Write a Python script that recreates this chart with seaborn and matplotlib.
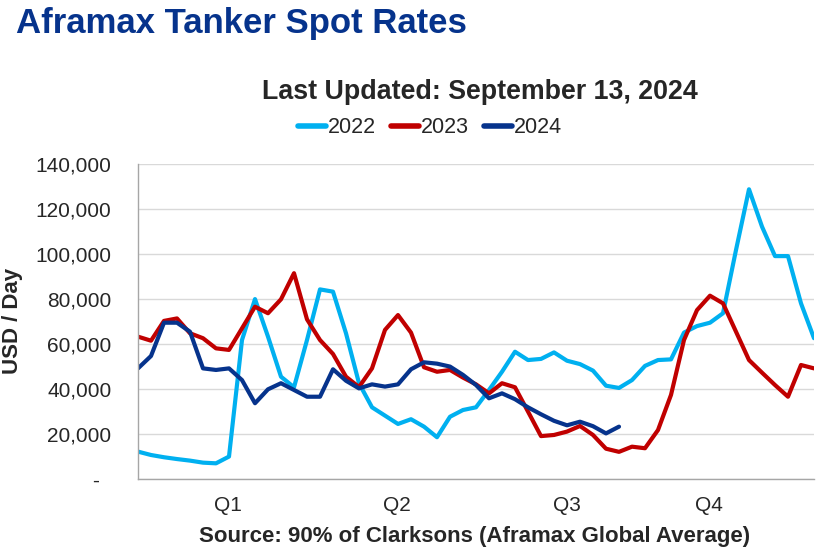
import pandas as pd
import matplotlib.pyplot as plt
import seaborn as sns
import numpy as np

# weekly spot rates, USD/day
rates_2022 = [12300, 10800, 9800, 9000, 8300, 7400, 7100, 10100, 61900, 80100,
              63400, 45600, 40900, 61900, 84400, 83400, 64900, 42700, 32000, 28300,
              24600, 26700, 23400, 18700, 27800, 30800, 32000, 39700, 47800, 56700,
              53000, 53500, 56400, 52700, 51200, 48300, 41600, 40600, 44100, 50400,
              53000, 53300, 65200, 68100, 69600, 73800, 101900, 128900, 112300, 99200,
              99200, 78200, 62700]
rates_2023 = [63400, 61600, 70400, 71500, 64900, 62700, 58200, 57500, 67100, 76700,
              73800, 80000, 91600, 71100, 61900, 55700, 45600, 41000, 49300, 66400,
              73000, 65200, 49800, 47800, 48600, 45200, 42200, 38200, 42700, 40900,
              30100, 19200, 19700, 21200, 23700, 19700, 13600, 12200, 14500, 13800,
              21900, 37500, 61900, 75200, 81600, 78200, 65600, 53000, 47400, 41900,
              36700, 50800, 49300]
rates_2024 = [49300, 54800, 69600, 69600, 65600, 49300, 48600, 49300, 44100, 33800,
              40000, 42700, 39700, 36700, 36700, 48900, 43800, 40400, 42200, 41200,
              42200, 48900, 52000, 51400, 50100, 46400, 41900, 36000, 38200, 35600,
              32000, 28900, 26000, 24000, 25600, 23600, 20400, 23400]

years = ["2022", "2023", "2024"]
colors = ["#00B0F0", "#C00000", "#06338C"]
quarter_labels = ["Q1", "Q2", "Q3", "Q4"]
quarter_weeks = [6.9, 19.9, 33, 43.9]

frames = []
for yr, vals in zip(years, [rates_2022, rates_2023, rates_2024]):
    frames.append(pd.DataFrame({"week": np.arange(len(vals)), "rate": vals, "year": yr}))
df = pd.concat(frames, ignore_index=True)

sns.set_style("white")
plt.rcParams["font.family"] = ["Liberation Sans", "DejaVu Sans"]

fig = plt.figure(figsize=(8.39, 5.48), dpi=100)
ax = fig.add_axes([138 / 839, 1 - 479.3 / 548, 676 / 839, (479.3 - 164.3) / 548])

sns.lineplot(data=df, x="week", y="rate", hue="year", palette=colors,
             linewidth=3, ax=ax)

ax.set_xlim(0, 52)
ax.set_ylim(0, 140000)
ax.set_yticks(np.arange(0, 140001, 20000))
ax.set_yticklabels(["-  "] + [f"{v:,.0f}" for v in np.arange(20000, 140001, 20000)])
ax.set_xticks(quarter_weeks)
ax.set_xticklabels(quarter_labels)
ax.tick_params(axis="y", length=0, pad=19, labelsize=15)
ax.tick_params(axis="x", length=0, pad=12, labelsize=15)
ax.yaxis.grid(True, color="#D9D9D9", linewidth=1)
ax.set_axisbelow(True)
for s in ["top", "right"]:
    ax.spines[s].set_visible(False)
for s in ["left", "bottom"]:
    ax.spines[s].set_color("#A6A6A6")
    ax.spines[s].set_linewidth(1)

ax.set_xlabel("")
ax.set_ylabel("USD / Day", fontsize=16, fontweight="bold", va="center")
ax.yaxis.set_label_coords(13 / 839, 1 - 321 / 548, transform=fig.transFigure)

sns.move_legend(ax, "center", bbox_to_anchor=(430 / 839, 1 - 128 / 548),
                bbox_transform=fig.transFigure, ncol=3, frameon=False, title=None,
                fontsize=15.5, handlelength=1.3, handletextpad=0.1, columnspacing=0.7)
for line in ax.get_legend().get_lines():
    line.set_linewidth(4)

fig.text(16 / 839, 1 - 33.3 / 548, "Aframax Tanker Spot Rates", fontsize=25,
         fontweight="bold", color="#06338C", va="baseline", ha="left")
fig.text(480 / 839, 1 - 99.3 / 548, "Last Updated: September 13, 2024", fontsize=19.3,
         fontweight="bold", va="baseline", ha="center")
fig.text(475 / 839, 1 - 541.7 / 548, "Source: 90% of Clarksons (Aframax Global Average)",
         fontsize=16, fontweight="bold", va="baseline", ha="center")

fig.savefig("out.png", dpi=100)
